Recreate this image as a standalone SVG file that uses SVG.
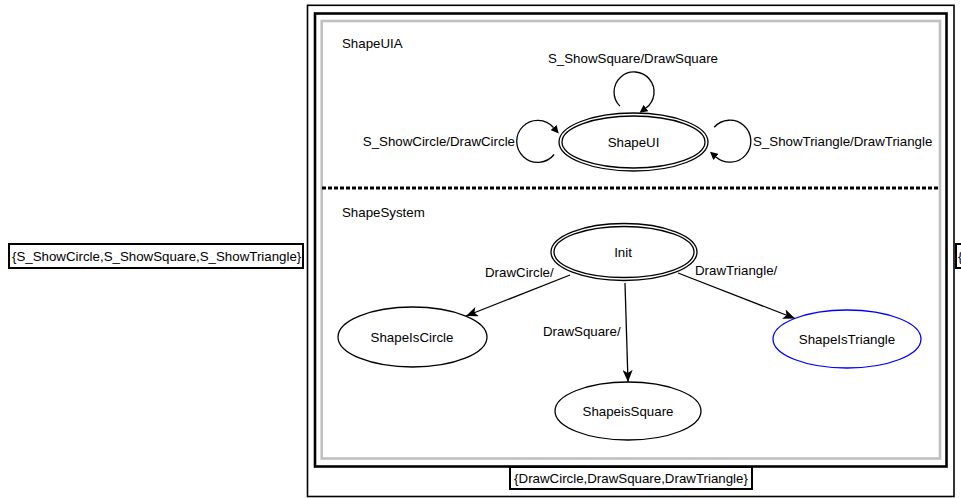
<svg xmlns="http://www.w3.org/2000/svg" width="961" height="498" viewBox="0 0 961 498">
<defs>
<style>
text{font-family:"Liberation Sans",Arial,Helvetica,sans-serif;font-size:13.3px;fill:#000}
.mid{text-anchor:middle}
.st{fill:#fff;stroke:#000;stroke-width:1.3}
.edge{fill:none;stroke:#000;stroke-width:1.3}
.box{fill:#fff;stroke:#000;stroke-width:2}
</style>
<marker id="ah" markerWidth="13" markerHeight="10" refX="12" refY="5" orient="auto" markerUnits="userSpaceOnUse"><path d="M0,0 L12,5 L0,10 L3,5 z" fill="#000"/></marker>
<marker id="sh" markerWidth="10" markerHeight="8" refX="0" refY="4" orient="auto" markerUnits="userSpaceOnUse"><path d="M0,0 L8,4 L0,8 z" fill="#000"/></marker>
</defs>
<rect width="961" height="498" fill="#fff"/>
<g id="frame">
<rect x="307.5" y="5.3" width="646.5" height="491.2" fill="none" stroke="#000" stroke-width="1.6"/>
<rect x="315" y="13.5" width="631.5" height="453" fill="none" stroke="#000" stroke-width="2.6"/>
<rect x="321.7" y="21" width="618.3" height="437.5" fill="none" stroke="#c0c0c0" stroke-width="2.6"/>
<line x1="322" y1="188" x2="940" y2="188" stroke="#000" stroke-width="3" stroke-dasharray="4,2"/>
<text x="342" y="48">ShapeUIA</text>
<text x="342" y="217">ShapeSystem</text>
</g>
<g id="input">
<rect class="box" x="9" y="244" width="294" height="24"/>
<text x="12" y="260.5">{S_ShowCircle,S_ShowSquare,S_ShowTriangle}</text>
</g>
<g id="output">
<rect class="box" x="510" y="467" width="242" height="22"/>
<text class="mid" x="631" y="483">{DrawCircle,DrawSquare,DrawTriangle}</text>
</g>
<g id="output2">
<rect class="box" x="956" y="244" width="40" height="24"/>
<text x="958" y="260.5">{</text>
</g>
<g id="ShapeUI">
<ellipse class="st" cx="633.5" cy="142" rx="74.5" ry="29"/>
<ellipse class="st" cx="633.5" cy="142" rx="71.5" ry="26"/>
<text class="mid" x="633.5" y="146.5">ShapeUI</text>
</g>
<g id="Init">
<ellipse class="st" cx="624" cy="252" rx="73" ry="28.5"/>
<ellipse class="st" cx="624" cy="252" rx="70" ry="25.5"/>
<text class="mid" x="623" y="256.5">Init</text>
</g>
<g id="ShapeIsCircle">
<ellipse class="st" cx="412.5" cy="337" rx="74.5" ry="30"/>
<text class="mid" x="412" y="341.5">ShapeIsCircle</text>
</g>
<g id="ShapeIsTriangle">
<ellipse class="st" cx="847" cy="339" rx="74" ry="29" stroke="#0000ff" style="stroke:#0000ff"/>
<text class="mid" x="847" y="343.5">ShapeIsTriangle</text>
</g>
<g id="ShapeisSquare">
<ellipse class="st" cx="628" cy="411" rx="73" ry="29"/>
<text class="mid" x="628" y="415.5">ShapeisSquare</text>
</g>
<g id="connectors">
<path class="edge" d="M619.9,106.1 A20,20 0 1 1 646,108" marker-end="url(#sh)"/>
<text class="mid" x="633" y="63">S_ShowSquare/DrawSquare</text>
<path class="edge" d="M554.1,154.5 A21,21 0 1 1 553.5,127.5" marker-end="url(#sh)"/>
<text x="515" y="146" text-anchor="end">S_ShowCircle/DrawCircle</text>
<path class="edge" d="M714.2,127.2 A21,21 0 1 1 716,157" marker-end="url(#sh)"/>
<text x="753" y="146">S_ShowTriangle/DrawTriangle</text>
<line class="edge" x1="570" y1="275" x2="466" y2="316" marker-end="url(#ah)"/>
<text x="485" y="277">DrawCircle/</text>
<line class="edge" x1="625" y1="283" x2="628" y2="382" marker-end="url(#ah)"/>
<text x="543" y="336">DrawSquare/</text>
<line class="edge" x1="678" y1="273" x2="795" y2="318.5" marker-end="url(#ah)"/>
<text x="695" y="275">DrawTriangle/</text>
</g>
</svg>
